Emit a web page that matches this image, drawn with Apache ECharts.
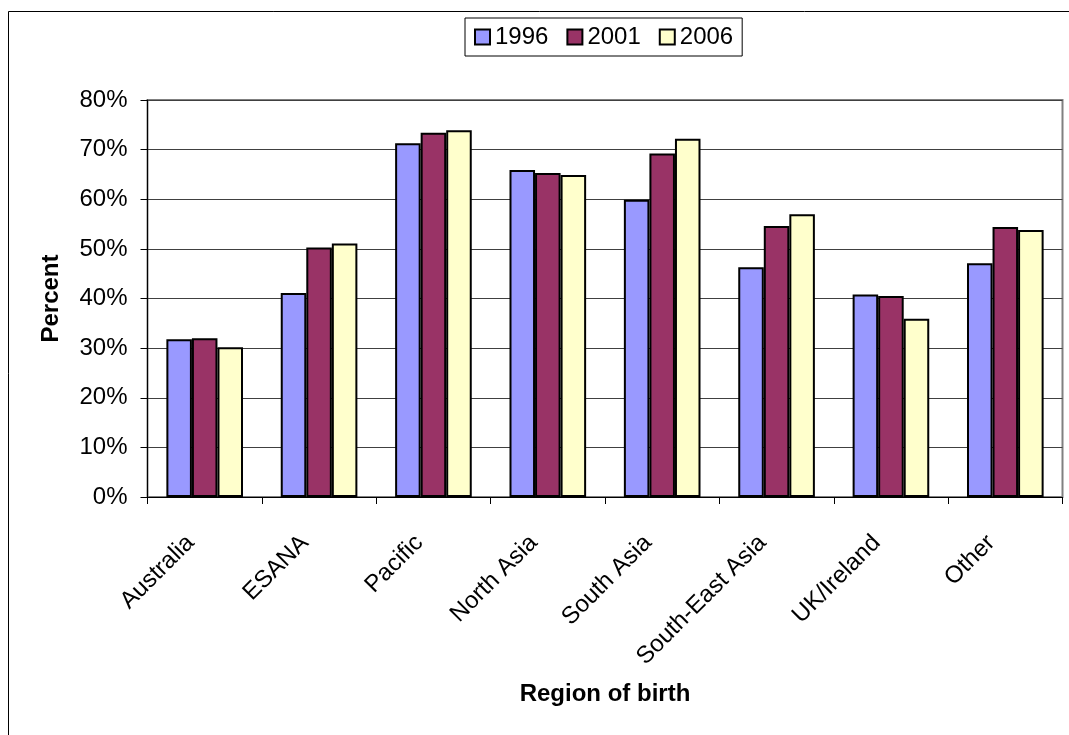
<!DOCTYPE html>
<html>
<head>
<meta charset="utf-8">
<script src="https://cdn.jsdelivr.net/npm/echarts@6/dist/echarts.min.js"></script>
<style>
  html, body { margin: 0; padding: 0; background: #fff; }
  #chart { width: 1069px; height: 735px; }
</style>
</head>
<body>
<div id="chart"></div>
<script>
// Share (%) by region of birth, for three census years
const regions = ['Australia', 'ESANA', 'Pacific', 'North Asia', 'South Asia', 'South-East Asia', 'UK/Ireland', 'Other'];
const years = ['1996', '2001', '2006'];
const values1996 = [31.8, 41.1, 71.3, 65.9, 59.9, 46.3, 40.8, 47.1];
const values2001 = [32.0, 50.3, 73.4, 65.3, 69.2, 54.6, 40.5, 54.4];
const values2006 = [30.2, 51.1, 73.9, 64.9, 72.2, 57.0, 35.9, 53.8];
const yTicks = [0, 10, 20, 30, 40, 50, 60, 70, 80];

const FONT = '"Liberation Sans", Arial, sans-serif';
const colors = ['#9999FF', '#993366', '#FFFFCC'];
const seriesValues = [values1996, values2001, values2006];

const chart = echarts.init(document.getElementById('chart'), null, { renderer: 'canvas' });

chart.setOption({
  animation: false,
  backgroundColor: '#ffffff',
  textStyle: { fontFamily: FONT, color: '#000' },
  graphic: [{
    type: 'rect',
    shape: { x: 8.5, y: 11.5, width: 1200, height: 900 },
    style: { fill: 'none', stroke: '#000', lineWidth: 1 },
    silent: true, z: -1
  }],
  legend: {
    data: years,
    left: 465,
    top: 18,
    padding: [7, 9],
    itemGap: 18,
    itemWidth: 15,
    itemHeight: 15,
    icon: 'rect',
    borderColor: '#000',
    borderWidth: 1,
    textStyle: { fontFamily: FONT, fontSize: 24, color: '#000' }
  },
  grid: {
    left: 147.5, top: 100, right: 6.5, bottom: 238,
    show: true, borderColor: '#808080', borderWidth: 2, backgroundColor: '#fff'
  },
  xAxis: {
    type: 'category',
    data: regions,
    name: 'Region of birth',
    nameLocation: 'middle',
    nameGap: 185,
    nameTextStyle: { fontFamily: FONT, fontSize: 24, fontWeight: 'bold', color: '#000' },
    axisLine: { lineStyle: { color: '#000', width: 1 } },
    axisTick: { show: true, length: 7, lineStyle: { color: '#000' } },
    axisLabel: {
      rotate: 45, margin: 28, padding: [0, 20, 0, 0],
      fontFamily: FONT, fontSize: 24, color: '#000', interval: 0
    },
    splitLine: { show: false }
  },
  yAxis: {
    type: 'value',
    min: yTicks[0],
    max: yTicks[yTicks.length - 1],
    interval: 10,
    name: 'Percent',
    nameLocation: 'middle',
    nameGap: 84,
    nameTextStyle: { fontFamily: FONT, fontSize: 24, fontWeight: 'bold', color: '#000' },
    axisLine: { show: true, lineStyle: { color: '#000', width: 1 } },
    axisTick: { show: true, length: 7, lineStyle: { color: '#000' } },
    axisLabel: { margin: 20, fontFamily: FONT, fontSize: 24, color: '#000', formatter: '{value}%' },
    splitLine: { show: true, lineStyle: { color: '#404040', width: 1 } }
  },
  series: years.map((y, i) => ({
    name: y,
    type: 'bar',
    data: seriesValues[i],
    barGap: '0%',
    barCategoryGap: '33%',
    itemStyle: { color: colors[i], borderColor: '#000', borderWidth: 2 }
  }))
});
</script>
</body>
</html>
